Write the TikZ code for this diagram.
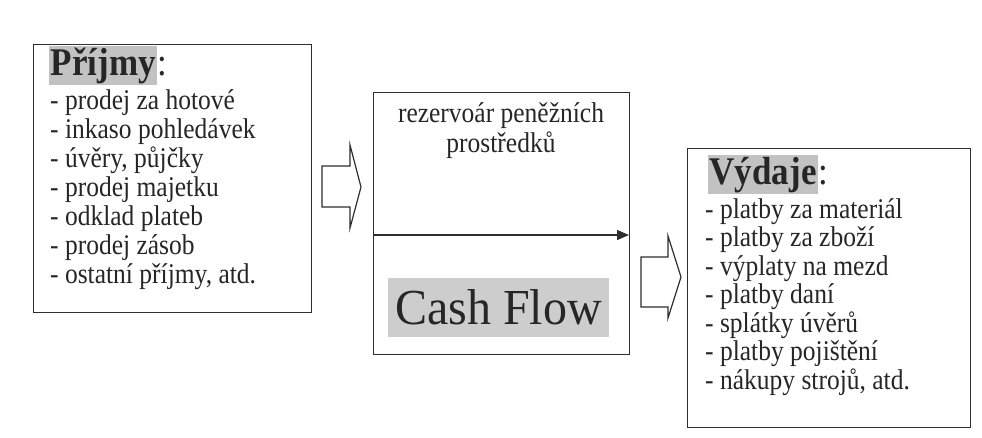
\documentclass[tikz,border=0pt]{standalone}
\usepackage{fontspec}
\setmainfont{Liberation Serif}
\usetikzlibrary{arrows.meta}
\definecolor{txt}{HTML}{262626}
\definecolor{linec}{HTML}{2E2E2E}
\definecolor{hl}{HTML}{C2C2C2}
\definecolor{hlcf}{HTML}{CDCDCD}
\newcommand{\tall}[1]{\scalebox{1}[1.12]{#1}}
\tikzset{
  boxline/.style={draw=linec, line width=1.3pt, inner sep=0pt},
  item/.style={anchor=base west, inner sep=0pt, font=\fontsize{25.5}{25.5}\selectfont, text=txt},
  headline/.style={anchor=base west, inner sep=1.5pt, font=\bfseries\fontsize{35}{35}\selectfont, fill=hl, text=txt},
  colon/.style={anchor=base west, inner sep=0pt, font=\fontsize{35}{35}\selectfont, text=txt},
  blockarrow/.style={draw=linec, line width=1.2pt, line join=miter},
  midtext/.style={anchor=base, inner sep=0pt, font=\fontsize{25.5}{25.5}\selectfont, text=txt},
}
\begin{document}
\begin{tikzpicture}[x=1pt,y=-1pt]
\useasboundingbox (0,0) rectangle (982,437);
\fill[white] (0,0) rectangle (982,437);

% left box: incomes
\node[boxline, minimum width=278pt, minimum height=268pt, anchor=north west] (inbox) at (33,44) {};
\node[headline] (inhead) at (49,75) {\tall{Příjmy}};
\node[colon] (incolon) at (inhead.base east) {\tall{:}};
\foreach \t [count=\i] in {- prodej za hotové, - inkaso pohledávek, {- úvěry, půjčky}, - prodej majetku, - odklad plateb, - prodej zásob, {- ostatní příjmy, atd.}}
  \node[item, name=in\i] at (50,{109+29*(\i-1)}) {\tall{\t}};

% left block arrow
\draw[blockarrow] (322,166) -- (350,166) -- (350,145) -- (361,187) -- (350,228) -- (350,207) -- (322,207) -- cycle;

% middle box
\node[boxline, minimum width=256pt, minimum height=262pt, anchor=north west] (midbox) at (373,92) {};
\node[midtext] (mid1) at (501,122) {\tall{rezervoár peněžních}};
\node[midtext] (mid2) at (501,152) {\tall{prostředků}};
\coordinate (lineL) at (373,235);
\coordinate (lineR) at (629,235);
\draw[draw=linec, line width=1.3pt, -{Triangle[length=12pt,width=10pt]}] (lineL) -- (lineR);
\node[fill=hlcf, inner sep=0pt, minimum width=221pt, minimum height=59pt, font=\fontsize{48}{48}\selectfont, text=txt] (cf) at (498.5,307.5) {\scalebox{1}[1.05]{Cash Flow}};

% right block arrow
\draw[blockarrow] (641,257) -- (668,257) -- (668,236) -- (681,277) -- (668,318) -- (668,307) -- (641,307) -- cycle;

% right box: expenses
\node[boxline, minimum width=283pt, minimum height=279pt, anchor=north west] (outbox) at (687,148) {};
\node[headline] (outhead) at (708,184) {\tall{Výdaje}};
\node[colon] (outcolon) at (outhead.base east) {\tall{:}};
\foreach \t [count=\i] in {- platby za materiál, - platby za zboží, - výplaty na mezd, - platby daní, - splátky úvěrů, - platby pojištění, {- nákupy strojů, atd.}}
  \node[item, name=out\i] at (705,{218+28.5*(\i-1)}) {\tall{\t}};
\end{tikzpicture}
\end{document}
